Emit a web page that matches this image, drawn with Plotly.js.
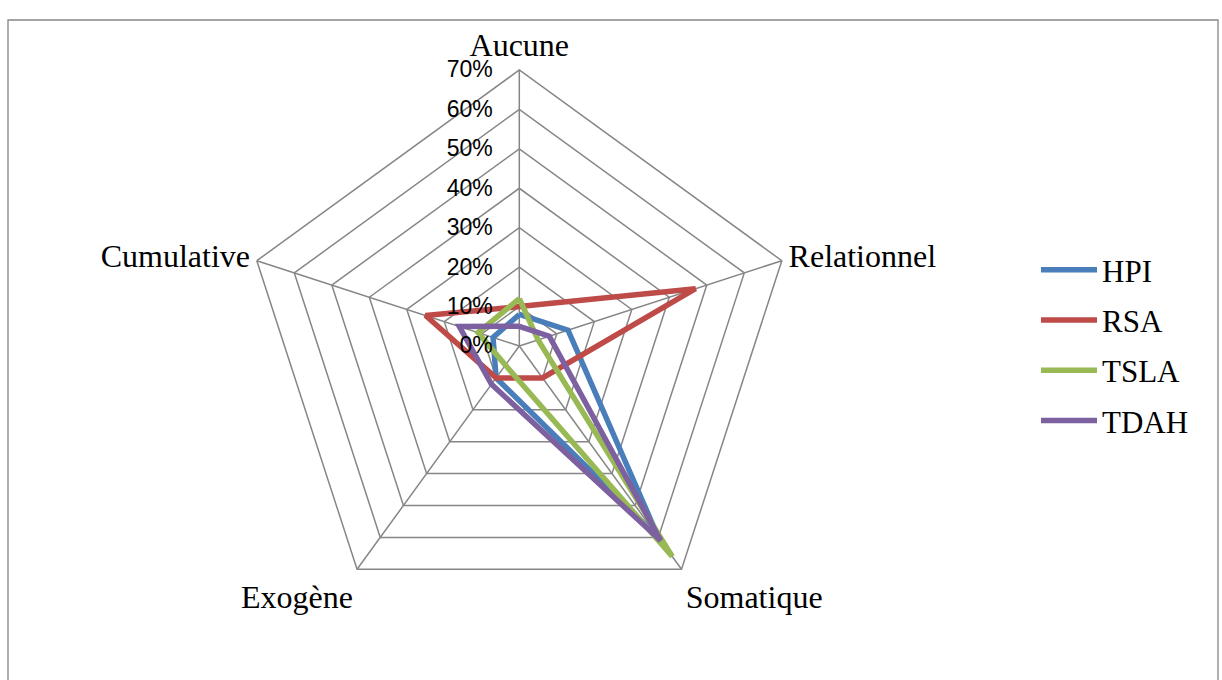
<!DOCTYPE html>
<html>
<head>
<meta charset="utf-8">
<script src="https://cdn.plot.ly/plotly-3.0.1.min.js"></script>
<style>html,body{margin:0;padding:0;background:#fff;}#chart{width:1222px;height:680px;}</style>
</head>
<body>
<div id="chart"></div>
<script>
const categories = ["Aucune", "Relationnel", "Somatique", "Exogène", "Cumulative"];
const seriesNames = ["HPI", "RSA", "TSLA", "TDAH"];
const hpi  = [0.08, 0.13, 0.60, 0.10, 0.07];
const rsa  = [0.10, 0.47, 0.10, 0.10, 0.25];
const tsla = [0.12, 0.05, 0.66, 0.06, 0.11];
const tdah = [0.05, 0.08, 0.61, 0.12, 0.16];
const radialTicks = [0, 0.1, 0.2, 0.3, 0.4, 0.5, 0.6, 0.7];
const colors = ["#4A7EBB", "#BE4B48", "#98B954", "#7D60A0"];

const seriesValues = [hpi, rsa, tsla, tdah];
const traces = seriesValues.map((vals, i) => ({
  type: "scatterpolar",
  mode: "lines",
  name: seriesNames[i],
  legendgroup: seriesNames[i],
  r: vals.concat([vals[0]]),
  theta: categories.concat([categories[0]]),
  line: {color: colors[i], width: 5.5},
  hoverinfo: "skip"
}));

const W = 1222, H = 680;
const cx = 519.3, cy = 346, R = 276;

const layout = {
  width: W, height: H,
  margin: {l: 0, r: 0, t: 0, b: 0},
  paper_bgcolor: "#ffffff",
  plot_bgcolor: "#ffffff",
  showlegend: true,
  legend: {
    x: 1036 / W, y: 1 - 243 / H, xanchor: "left", yanchor: "top",
    font: {family: "Liberation Serif, Times New Roman, serif", size: 31, color: "#000"},
    tracegroupgap: 7,
    itemwidth: 56,
    bgcolor: "rgba(0,0,0,0)"
  },
  polar: {
    domain: {x: [(cx - R) / W, (cx + R) / W], y: [1 - (cy + R) / H, 1 - (cy - R) / H]},
    gridshape: "linear",
    bgcolor: "#ffffff",
    angularaxis: {
      rotation: 90,
      direction: "clockwise",
      type: "category",
      categoryarray: categories,
      showline: true,
      linecolor: "#868686",
      linewidth: 1.5,
      showgrid: true,
      gridcolor: "#868686",
      gridwidth: 1.5,
      ticks: "",
      tickfont: {family: "Liberation Serif, Times New Roman, serif", size: 32, color: "#000"}
    },
    radialaxis: {
      range: [0, 0.7],
      tickvals: radialTicks,
      tickformat: ".0%",
      angle: 90,
      tickangle: 90,
      side: "counterclockwise",
      showline: false,
      ticks: "outside",
      ticklen: 18,
      tickcolor: "rgba(0,0,0,0)",
      showgrid: true,
      gridcolor: "#868686",
      gridwidth: 1.5,
      tickfont: {family: "Liberation Sans, Arial, sans-serif", size: 23, color: "#000"}
    }
  },
  shapes: [{
    type: "rect", xref: "paper", yref: "paper",
    x0: 8 / W, x1: 1218 / W, y0: -0.05, y1: 1 - 20 / H,
    line: {color: "#868686", width: 1.3}, fillcolor: "rgba(0,0,0,0)"
  }]
};

Plotly.newPlot("chart", traces, layout, {displayModeBar: false, staticPlot: true});
</script>
</body>
</html>
